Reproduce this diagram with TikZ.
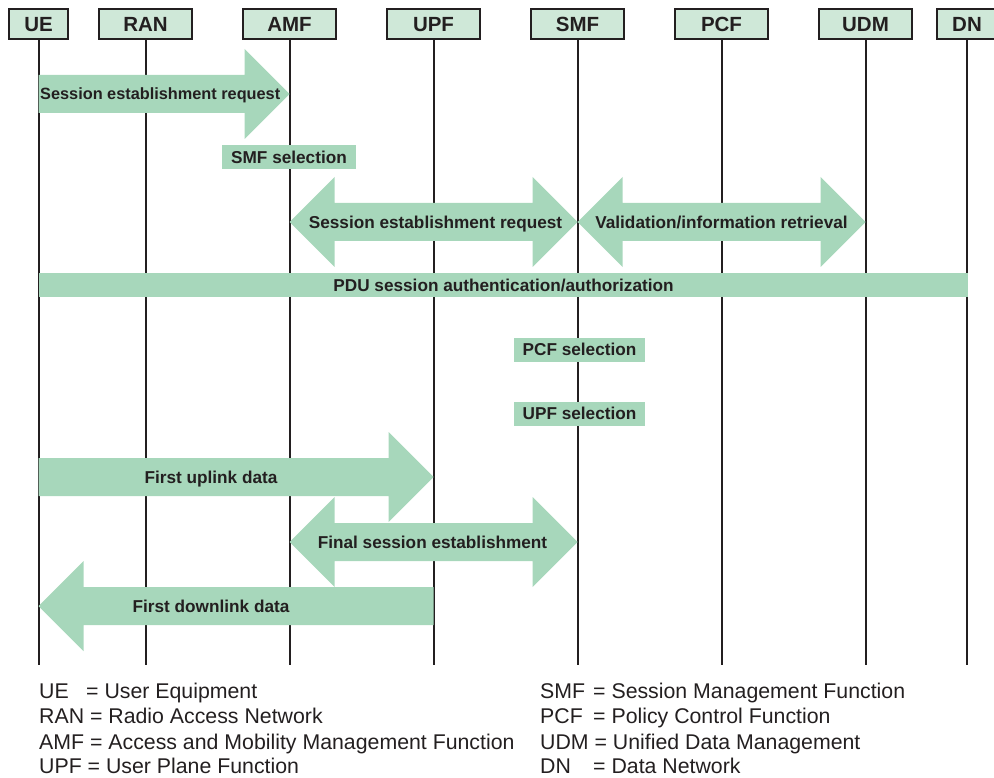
\documentclass[tikz,border=0pt]{standalone}
\usepackage{fontspec}
\setmainfont{Liberation Sans}
\usetikzlibrary{calc}
\definecolor{hdrfill}{RGB}{207,232,216}
\definecolor{arrfill}{RGB}{167,215,187}
\definecolor{linecol}{RGB}{35,31,32}
\newcommand{\rarr}[3]{% #1 tail node, #2 tip node, #3 y
  \fill[arr] ($(#1|-0,#3)+(0,-19)$) -- ($(#2|-0,#3)+(-45,-19)$) -- ($(#2|-0,#3)+(-45,-45)$) -- (#2|-0,#3)
    -- ($(#2|-0,#3)+(-45,45)$) -- ($(#2|-0,#3)+(-45,19)$) -- ($(#1|-0,#3)+(0,19)$) -- cycle;}
\newcommand{\larr}[3]{% #1 tip node, #2 tail node, #3 y
  \fill[arr] ($(#2|-0,#3)+(0,-19)$) -- ($(#1|-0,#3)+(45,-19)$) -- ($(#1|-0,#3)+(45,-45)$) -- (#1|-0,#3)
    -- ($(#1|-0,#3)+(45,45)$) -- ($(#1|-0,#3)+(45,19)$) -- ($(#2|-0,#3)+(0,19)$) -- cycle;}
\newcommand{\barr}[3]{% #1 left tip node, #2 right tip node, #3 y
  \fill[arr] (#1|-0,#3) -- ($(#1|-0,#3)+(45,-45)$) -- ($(#1|-0,#3)+(45,-19)$) -- ($(#2|-0,#3)+(-45,-19)$)
    -- ($(#2|-0,#3)+(-45,-45)$) -- (#2|-0,#3) -- ($(#2|-0,#3)+(-45,45)$) -- ($(#2|-0,#3)+(-45,19)$)
    -- ($(#1|-0,#3)+(45,19)$) -- ($(#1|-0,#3)+(45,45)$) -- cycle;}
\begin{document}
\begin{tikzpicture}[x=1pt,y=-1pt,
  lifeline/.style={draw=linecol, line width=2pt},
  hdr/.style={draw=linecol, line width=1.6pt, fill=hdrfill, minimum height=30pt, inner sep=0pt,
    text height=14.7pt, text depth=0pt, text=linecol, font=\fontsize{20.5}{24}\selectfont\bfseries},
  lbl/.style={inner sep=0pt, text height=12.3pt, text depth=0pt, text=linecol,
    font=\fontsize{17.2}{20}\selectfont\bfseries},
  bar/.style={lbl, fill=arrfill, minimum height=24pt},
  arr/.style={fill=arrfill},
  legend/.style={anchor=base west, inner sep=0pt, text=linecol, font=\fontsize{21.3}{25}\selectfont}]
\useasboundingbox (0,0) rectangle (994,778);
% headers
\node[hdr, minimum width=59pt] (ue)  at (38.5,24)  {UE};
\node[hdr, minimum width=93pt] (ran) at (145.5,24) {RAN};
\node[hdr, minimum width=93pt] (amf) at (289.5,24) {AMF};
\node[hdr, minimum width=93pt] (upf) at (433.5,24) {UPF};
\node[hdr, minimum width=93pt] (smf) at (577.5,24) {SMF};
\node[hdr, minimum width=93pt] (pcf) at (721.5,24) {PCF};
\node[hdr, minimum width=93pt] (udm) at (865.5,24) {UDM};
\node[hdr, minimum width=60pt] (dn)  at (967,24)   {DN};
\coordinate (bottom) at (0,665);
\foreach \n in {ue,ran,amf,upf,smf,pcf,udm,dn}
  \draw[lifeline] (\n) -- (\n |- bottom);
% arrows
\rarr{ue}{amf}{94}
\barr{amf}{smf}{222}
\barr{smf}{udm}{222}
\rarr{ue}{upf}{477}
\barr{amf}{smf}{542}
\larr{ue}{upf}{606}
% labels
\node[lbl, anchor=west, text height=11.7pt, font=\fontsize{16.3}{19}\selectfont\bfseries] (l1) at (40,94) {Session establishment request};
\node[bar, minimum width=134pt] (smfsel) at (289,157.5) {SMF selection};
\node[lbl] (l2) at (435.5,222) {Session establishment request};
\node[lbl] (l3) at (721.5,222) {Validation/information retrieval};
\node[bar, minimum width=929pt] (pdu) at (503.5,285.5) {PDU session authentication/authorization};
\node[bar, minimum width=131pt] (pcfsel) at (579.5,349.5) {PCF selection};
\node[bar, minimum width=131pt] (upfsel) at (579.5,413.5) {UPF selection};
\node[lbl] (l4) at (211,477) {First uplink data};
\node[lbl] (l5) at (432.5,542) {Final session establishment};
\node[lbl] (l6) at (211,606) {First downlink data};
% legend
\node[legend] (lg1a) at (39,698) {UE};
\node[legend] (lg1b) at (86,698) {= User Equipment};
\node[legend] (lg2) at (39,723.5) {RAN = Radio Access Network};
\node[legend] (lg3) at (39,749) {AMF = Access and Mobility Management Function};
\node[legend] (lg4) at (39,773.5) {UPF = User Plane Function};
\node[legend] (lg5a) at (540,698) {SMF};
\node[legend] (lg5b) at (593,698) {= Session Management Function};
\node[legend] (lg6a) at (540,723.5) {PCF};
\node[legend] (lg6b) at (593,723.5) {= Policy Control Function};
\node[legend] (lg7) at (540,749) {UDM = Unified Data Management};
\node[legend] (lg8a) at (540,773.5) {DN};
\node[legend] (lg8b) at (593,773.5) {= Data Network};
\end{tikzpicture}
\end{document}
